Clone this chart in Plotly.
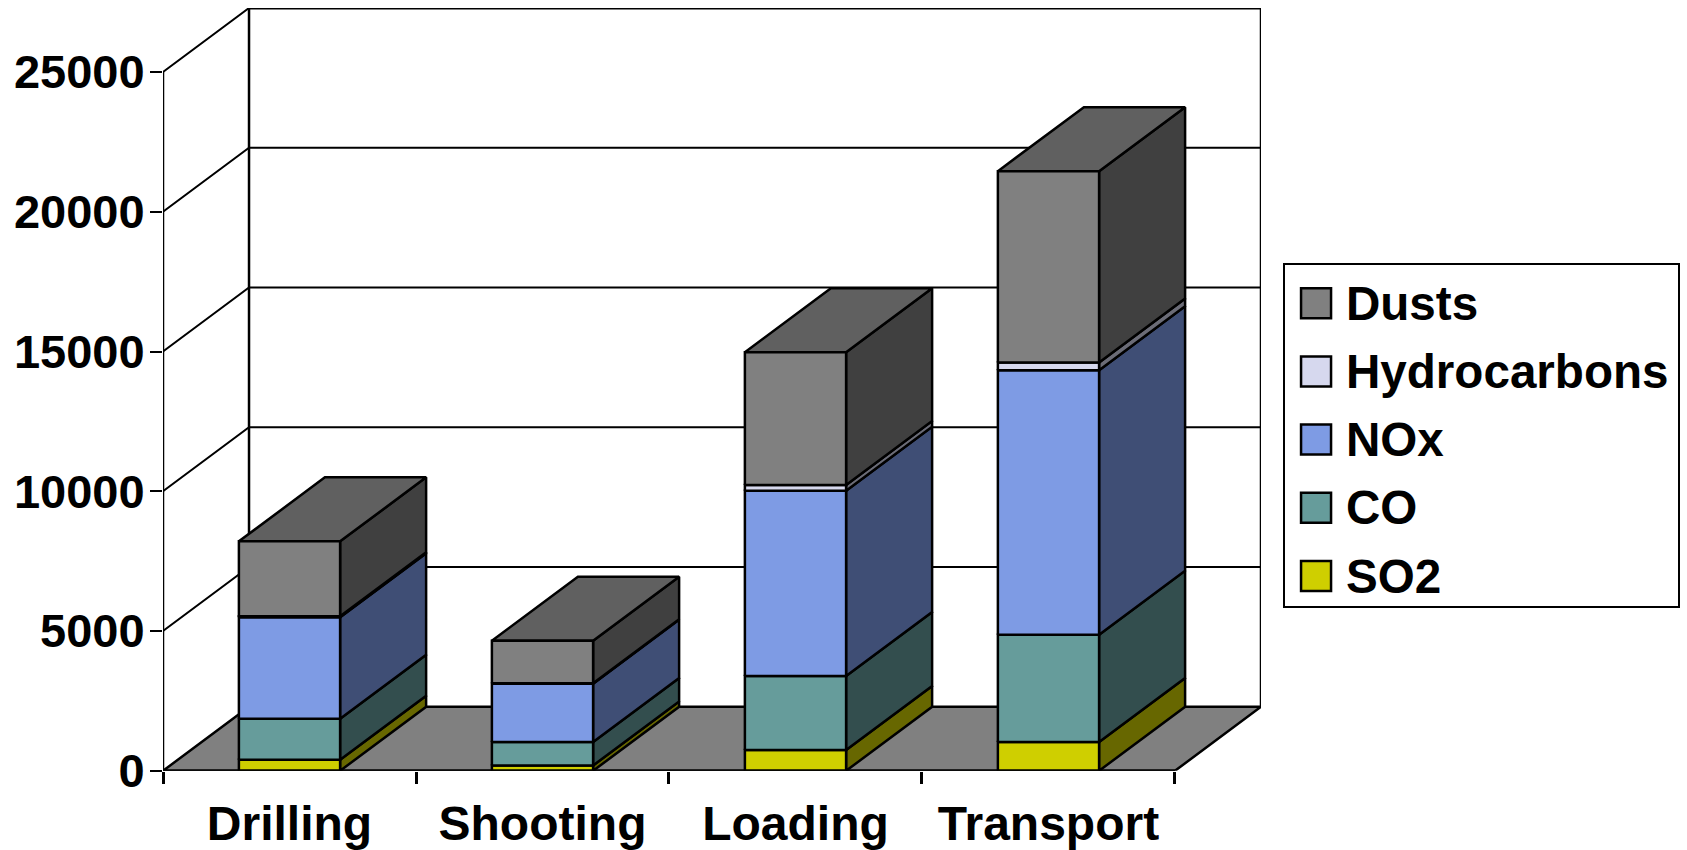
import plotly.graph_objects as go

# Emissions by mining operation, stacked per pollutant
categories = ["Drilling", "Shooting", "Loading", "Transport"]
so2 = [394, 191, 740, 1027]
co = [1467, 835, 2648, 3841]
nox = [3630, 2088, 6633, 9462]
hydrocarbons = [40, 20, 204, 273]
dusts = [2677, 1519, 4750, 6850]
y_ticks = [0, 5000, 10000, 15000, 20000, 25000]

series_names = ["SO2", "CO", "NOx", "Hydrocarbons", "Dusts"]
series_values = [so2, co, nox, hydrocarbons, dusts]
front_colors = ["#CFCF00", "#669C9B", "#7E9BE4", "#D6D8EE", "#808080"]
side_colors = ["#676700", "#334E4E", "#3F4E75", "#6B6C77", "#404040"]
top_color = "#606060"
floor_color = "#808080"

# Oblique projection: depth shifts a point right and up in data units
DEPTH_X = 0.34
DEPTH_Y = 2290
BAR_WIDTH = 0.4
BAR_OFFSET = 0.3
FONT = "Liberation Sans"
LINE = dict(color="black", width=2.5)


def polygon_path(polys):
    xs, ys = [], []
    for poly in polys:
        xs += [p[0] for p in poly] + [poly[0][0], None]
        ys += [p[1] for p in poly] + [poly[0][1], None]
    return xs, ys


def face_trace(polys, color, name):
    xs, ys = polygon_path(polys)
    return go.Scatter(x=xs, y=ys, mode="lines", fill="toself", fillcolor=color,
                      line=LINE, name=name, hoverinfo="skip", cliponaxis=False,
                      showlegend=False)


def line_trace(xs, ys, width=2.0):
    return go.Scatter(x=xs, y=ys, mode="lines", line=dict(color="black", width=width),
                      hoverinfo="skip", cliponaxis=False, showlegend=False)


fig = go.Figure()

# Back wall gridlines, left wall gridlines and wall edges
n = len(categories)
grid_x, grid_y = [], []
for v in y_ticks[1:]:
    grid_x += [0, DEPTH_X, n + DEPTH_X, None]
    grid_y += [v, v + DEPTH_Y, v + DEPTH_Y, None]
fig.add_trace(line_trace(grid_x, grid_y))
fig.add_trace(line_trace([DEPTH_X, DEPTH_X], [DEPTH_Y, y_ticks[-1] + DEPTH_Y], width=2.5))
fig.add_trace(line_trace([n + DEPTH_X, n + DEPTH_X], [DEPTH_Y, y_ticks[-1] + DEPTH_Y], width=2.5))
fig.add_trace(line_trace([DEPTH_X, n + DEPTH_X], [y_ticks[-1] + DEPTH_Y] * 2, width=3))
fig.add_trace(line_trace([0, 0], [0, y_ticks[-1]], width=2.5))

# Floor of the chart
fig.add_trace(face_trace([[(0, 0), (n, 0), (n + DEPTH_X, DEPTH_Y), (DEPTH_X, DEPTH_Y)]],
                         floor_color, "Floor"))

# Stacked boxes, lowest pollutant first
bases = [0] * n
for name, values, front, side in zip(series_names, series_values, front_colors, side_colors):
    side_polys, front_polys, top_polys = [], [], []
    for i, v in enumerate(values):
        left = i + BAR_OFFSET
        right = left + BAR_WIDTH
        low = bases[i]
        high = low + v
        front_polys.append([(left, low), (right, low), (right, high), (left, high)])
        side_polys.append([(right, low), (right + DEPTH_X, low + DEPTH_Y),
                           (right + DEPTH_X, high + DEPTH_Y), (right, high)])
        top_polys.append([(left, high), (right, high), (right + DEPTH_X, high + DEPTH_Y),
                          (left + DEPTH_X, high + DEPTH_Y)])
        bases[i] = high
    fig.add_trace(face_trace(side_polys, side, name + " side"))
    if name == series_names[-1]:
        fig.add_trace(face_trace(top_polys, top_color, name + " top"))
    fig.add_trace(face_trace(front_polys, front, name))

fig.add_trace(line_trace([0, n], [0, 0], width=2.5))

# Key, top entry first, in its own framed axes
swatch_ranks = [i + 0.44 for i in range(len(series_names))]
label_ranks = [i + 0.37 for i in range(len(series_names))]
fig.add_trace(go.Scatter(
    x=[0.079] * len(series_names), y=swatch_ranks, mode="markers", xaxis="x2", yaxis="y2",
    marker=dict(symbol="square", size=30, color=front_colors, line=LINE),
    hoverinfo="skip", showlegend=False))
fig.add_trace(go.Scatter(
    x=[0.155] * len(series_names), y=label_ranks, mode="text", xaxis="x2", yaxis="y2",
    text=series_names, textposition="middle right",
    textfont=dict(family=FONT, size=47.6, color="black", weight="bold"),
    hoverinfo="skip", showlegend=False, cliponaxis=False))

W, H = 1687, 850
fig.update_layout(
    width=W, height=H, margin=dict(l=0, r=0, t=0, b=0),
    paper_bgcolor="white", plot_bgcolor="white", showlegend=False,
    xaxis=dict(domain=[163 / W, 1261 / W], range=[0, n + DEPTH_X], showgrid=False, zeroline=False,
               showline=False, automargin=False, tickmode="array",
               tickvals=[i + 0.5 for i in range(n)], ticktext=categories, ticks="",
               tickfont=dict(family=FONT, size=48, color="black", weight="bold"),
               ticklabelstandoff=20,
               minor=dict(tickmode="array", tickvals=list(range(n + 1)), ticks="outside",
                          ticklen=12, tickwidth=2.5, tickcolor="black", showgrid=False)),
    yaxis=dict(domain=[(H - 770.8) / H, (H - 8) / H], range=[0, y_ticks[-1] + DEPTH_Y],
               showgrid=False, zeroline=False, showline=False, automargin=False, tickmode="array",
               tickvals=y_ticks, ticktext=[str(v) for v in y_ticks], ticks="outside",
               ticklen=12, tickwidth=2, tickcolor="black", ticklabelstandoff=-4,
               tickfont=dict(family=FONT, size=47, color="black", weight="bold")),
    xaxis2=dict(domain=[1285 / W, 1678 / W], range=[0, 1], anchor="y2", showgrid=False,
                zeroline=False, showticklabels=False, ticks="", showline=True, mirror=True,
                automargin=False, linecolor="black", linewidth=2),
    yaxis2=dict(domain=[(H - 606) / H, (H - 265) / H], range=[0, len(series_names)], anchor="x2",
                showgrid=False, zeroline=False, showticklabels=False, ticks="", showline=True,
                mirror=True, automargin=False, linecolor="black", linewidth=2),
)

fig.write_html("out.html")
